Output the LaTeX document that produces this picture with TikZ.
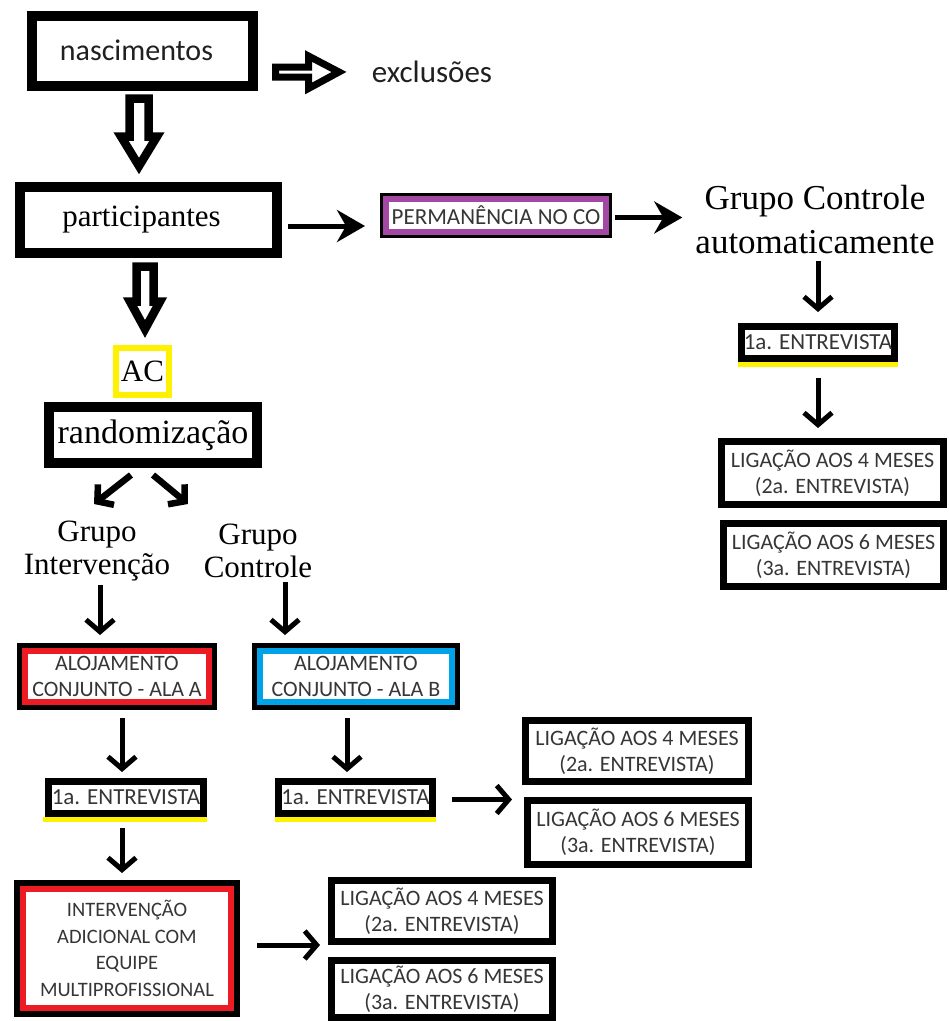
\documentclass[tikz,border=0pt]{standalone}
\usepackage{fontspec}
\setmainfont{Liberation Serif}
\newfontfamily\calfont{Carlito}
\usetikzlibrary{arrows.meta,calc}
\definecolor{mpurple}{HTML}{A349A4}
\definecolor{mred}{HTML}{ED1C24}
\definecolor{mblue}{HTML}{00A2E8}
\definecolor{myellow}{HTML}{FFF200}
\definecolor{txt}{HTML}{363636}
\definecolor{dark}{HTML}{202020}
\newcommand\myframe[3]{\draw[line width=#3] ([xshift=-#2,yshift=#2]#1.north west) rectangle ([xshift=#2,yshift=-#2]#1.south east);}
\begin{document}
\begin{tikzpicture}[x=1pt,y=-1pt,
  box/.style={draw, line width=7pt, outer sep=0pt, inner sep=0pt, align=center, text=txt, font=\calfont\fontsize{22}{26}\selectfont},
  bigbox/.style={draw, line width=10pt, outer sep=0pt, inner sep=0pt, align=center},
  cbox/.style={draw=#1, line width=6pt, outer sep=0pt, inner sep=0pt, align=center, text=txt, font=\calfont\fontsize{22}{26.7}\selectfont},
  serif/.style={inner sep=0pt, align=center, font=\fontsize{31}{33}\selectfont},
  hollowpath/.style={draw, fill=white, line width=8.5pt, line join=miter},
  arr/.style={line width=5pt, -{Straight Barb[length=12pt,width=28pt]}},
  darr/.style={line width=6.5pt, -{Straight Barb[length=11pt,width=26pt]}},
  arrs/.style={line width=5pt, -{Stealth[length=28pt,width=32pt,inset=9pt]}},
  yline/.style={draw=myellow, line width=5pt}
]
\fill[white] (0,0) rectangle (949,1021);
\useasboundingbox (0,0) rectangle (949,1021);

% top
\node[bigbox, minimum width=221pt, minimum height=70pt, text=dark, font=\calfont\fontsize{30}{32}\selectfont] (nasc) at (142.5,50.5) {nascimentos\hspace*{12pt}};
\node[text=dark, font=\calfont\fontsize{31}{32}\selectfont, inner sep=0pt] (excl) at (432,72) {exclusões};
% hollow arrow to the right
\draw[hollowpath, line width=7pt] (275.5,67) -- (308.5,67) -- (308.5,56) -- (339,72) -- (308.5,88.5) -- (308.5,77) -- (275.5,77) -- cycle;
% hollow arrow down (nascimentos -> participantes)
\draw[hollowpath] (129.5,98.5) -- (148.5,98.5) -- (148.5,136.5) -- (157,136.5) -- (139,166) -- (121,136.5) -- (129.5,136.5) -- cycle;

\node[bigbox, minimum width=257pt, minimum height=66pt, font=\fontsize{31}{33}\selectfont] (partic) at (148.5,220) {participantes\hspace*{14pt}};
\node[cbox=mpurple, minimum width=220pt, minimum height=33pt, font=\calfont\fontsize{23}{24}\selectfont] (perm) at (496,215.5) {PERMANÊNCIA NO CO};
\myframe{perm}{4.5pt}{3pt}
\node[serif, font=\fontsize{35}{44}\selectfont] (gca) at (815,220) {Grupo Controle\\automaticamente};

\draw[arrs, shorten <=11pt, shorten >=21pt] ([yshift=-6pt]partic.east) -- ([yshift=-6pt]partic.east -| perm.west);
\draw[arrs, shorten <=9pt, shorten >=13pt] ([yshift=-2pt]perm.east) -- ([yshift=-2pt]perm.east -| gca.west);

% right column
\node[box, minimum width=153pt, minimum height=32pt, font=\calfont\fontsize{23}{26}\selectfont] (e1) at (818,342.5) {1a. ENTREVISTA};
\draw[yline] ([xshift=-3.5pt,yshift=-6pt]e1.south west) -- ([xshift=3.5pt,yshift=-6pt]e1.south east);
\node[box, minimum width=222pt, minimum height=63pt] (r4) at (832.5,473) {LIGAÇÃO AOS 4 MESES\\(2a. ENTREVISTA)};
\node[box, minimum width=220pt, minimum height=63pt] (r6) at (833.5,555) {LIGAÇÃO AOS 6 MESES\\(3a. ENTREVISTA)};
\draw[arr, shorten <=6pt, shorten >=14.5pt] (e1.north |- gca.south) -- (e1.north);
\draw[arr, shorten <=19.5pt, shorten >=13.5pt] (e1.south) -- (e1.south |- r4.north);

% left branch
\draw[hollowpath] (136.5,266.5) -- (153.5,266.5) -- (153.5,301.5) -- (160,301.5) -- (145,329) -- (130,301.5) -- (136.5,301.5) -- cycle;
\node[draw=myellow, line width=6pt, outer sep=0pt, inner sep=0pt, minimum width=53pt, minimum height=47pt, font=\fontsize{31}{33}\selectfont] (ac) at (142.5,371.5) {AC};
\node[bigbox, minimum width=208pt, minimum height=56pt, font=\fontsize{34}{35}\selectfont] (rand) at (153,435) {randomização};

\node[serif] (gi) at (97,551) {Grupo\\Intervenção};
\node[serif] (gc) at (258,551) {Grupo\\Controle};
\draw[darr] ([xshift=-22pt,yshift=-12pt]rand.south) -- ([xshift=-59pt,yshift=-41pt]rand.south);
\draw[darr] ([xshift=0pt,yshift=-12pt]rand.south) -- ([xshift=35pt,yshift=-41pt]rand.south);

\node[cbox=mred, minimum width=184pt, minimum height=51pt] (alaA) at (117,676.5) {ALOJAMENTO\\CONJUNTO - ALA A};
\myframe{alaA}{5.5pt}{5pt}
\node[cbox=mblue, minimum width=192pt, minimum height=51pt] (alaB) at (356,676.5) {ALOJAMENTO\\CONJUNTO - ALA B};
\myframe{alaB}{5.5pt}{5pt}
\draw[arr, shorten <=4pt, shorten >=16pt] ([xshift=3pt]gi.south) -- ([xshift=3pt]gi.south |- alaA.north);
\draw[arr, shorten <=4pt, shorten >=16pt] ([xshift=27pt]gc.south) -- ([xshift=27pt]gc.south |- alaB.north);

\node[box, minimum width=155pt, minimum height=32pt, font=\calfont\fontsize{23}{26}\selectfont] (e2) at (126,797.5) {1a. ENTREVISTA};
\draw[yline] ([xshift=-5.5pt,yshift=-6pt]e2.south west) -- ([xshift=3.5pt,yshift=-6pt]e2.south east);
\node[box, minimum width=154pt, minimum height=32pt, font=\calfont\fontsize{23}{26}\selectfont] (e3) at (355.5,797.5) {1a. ENTREVISTA};
\draw[yline] ([xshift=-3.5pt,yshift=-6pt]e3.south west) -- ([xshift=3.5pt,yshift=-6pt]e3.south east);
\draw[arr, shorten <=16pt, shorten >=9.5pt] ([xshift=5pt]alaA.south) -- ([xshift=5pt]alaA.south |- e2.north);
\draw[arr, shorten <=16pt, shorten >=9.5pt] ([xshift=-9pt]alaB.south) -- ([xshift=-9pt]alaB.south |- e3.north);

\node[box, minimum width=223pt, minimum height=61pt] (m4) at (637,751) {LIGAÇÃO AOS 4 MESES\\(2a. ENTREVISTA)};
\node[box, minimum width=221pt, minimum height=64pt] (m6) at (638,832.5) {LIGAÇÃO AOS 6 MESES\\(3a. ENTREVISTA)};
\draw[arr, shorten <=19.5pt, shorten >=13.5pt] ([yshift=-2pt]e3.east) -- ([yshift=-2pt]e3.east -| m4.west);

\node[cbox=mred, minimum width=208pt, minimum height=119pt, font=\calfont\fontsize{20.5}{26.7}\selectfont] (int) at (127,948.5) {INTERVENÇÃO\\ADICIONAL COM\\EQUIPE\\MULTIPROFISSIONAL};
\myframe{int}{6pt}{6pt}
\draw[arr, shorten <=14.5pt, shorten >=16pt] ([xshift=-4pt]e2.south) -- ([xshift=-4pt]e2.south |- int.north);

\node[box, minimum width=221pt, minimum height=61pt] (b4) at (442,911) {LIGAÇÃO AOS 4 MESES\\(2a. ENTREVISTA)};
\node[box, minimum width=221pt, minimum height=57pt] (b6) at (442,989) {LIGAÇÃO AOS 6 MESES\\(3a. ENTREVISTA)};
\draw[arr, shorten <=26pt, shorten >=11.5pt] ([yshift=3.5pt]int.east) -- ([yshift=3.5pt]int.east -| b4.west);
\end{tikzpicture}
\end{document}
